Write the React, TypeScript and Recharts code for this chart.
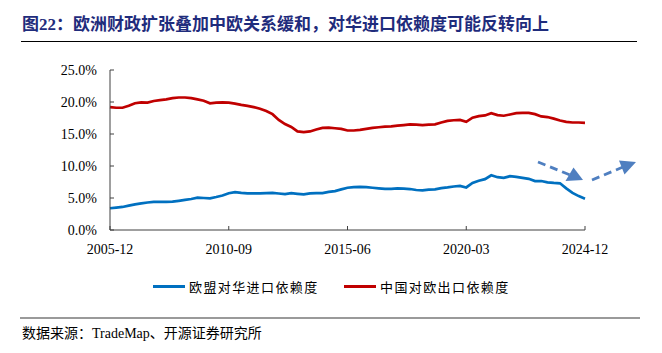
import { LineChart, Line, XAxis, YAxis } from "recharts";

// quarterly samples, 2005-12 .. 2024-12
const months = [
  "2005-12",
  "2006-03", "2006-06", "2006-09", "2006-12",
  "2007-03", "2007-06", "2007-09", "2007-12",
  "2008-03", "2008-06", "2008-09", "2008-12",
  "2009-03", "2009-06", "2009-09", "2009-12",
  "2010-03", "2010-06", "2010-09", "2010-12",
  "2011-03", "2011-06", "2011-09", "2011-12",
  "2012-03", "2012-06", "2012-09", "2012-12",
  "2013-03", "2013-06", "2013-09", "2013-12",
  "2014-03", "2014-06", "2014-09", "2014-12",
  "2015-03", "2015-06", "2015-09", "2015-12",
  "2016-03", "2016-06", "2016-09", "2016-12",
  "2017-03", "2017-06", "2017-09", "2017-12",
  "2018-03", "2018-06", "2018-09", "2018-12",
  "2019-03", "2019-06", "2019-09", "2019-12",
  "2020-03", "2020-06", "2020-09", "2020-12",
  "2021-03", "2021-06", "2021-09", "2021-12",
  "2022-03", "2022-06", "2022-09", "2022-12",
  "2023-03", "2023-06", "2023-09", "2023-12",
  "2024-03", "2024-06", "2024-09", "2024-12",
];

// 欧盟对华进口依赖度 (%)
const euImport = [
  3.4, 3.5, 3.6, 3.8, 4.0, 4.15, 4.3, 4.38, 4.4, 4.38,
  4.42, 4.55, 4.7, 4.85, 5.05, 5.0, 4.95, 5.15, 5.4, 5.75,
  5.92, 5.8, 5.72, 5.72, 5.72, 5.75, 5.8, 5.7, 5.62, 5.75,
  5.65, 5.57, 5.72, 5.77, 5.77, 5.95, 6.08, 6.35, 6.6, 6.7,
  6.75, 6.7, 6.6, 6.5, 6.42, 6.42, 6.5, 6.47, 6.4, 6.25,
  6.2, 6.3, 6.35, 6.55, 6.65, 6.8, 6.9, 6.65, 7.35, 7.7,
  7.95, 8.55, 8.25, 8.15, 8.4, 8.3, 8.15, 8.0, 7.65, 7.65,
  7.45, 7.35, 7.3, 6.5, 5.8, 5.3, 4.9,
];

// 中国对欧出口依赖度 (%)
const cnExport = [
  19.2, 19.1, 19.1, 19.4, 19.8, 19.95, 19.9, 20.15, 20.3, 20.4,
  20.6, 20.7, 20.7, 20.6, 20.4, 20.2, 19.8, 19.9, 19.95, 19.9,
  19.75, 19.55, 19.4, 19.2, 18.95, 18.6, 18.1, 17.2, 16.55, 16.1,
  15.4, 15.3, 15.4, 15.7, 15.95, 16.0, 15.9, 15.8, 15.55, 15.55,
  15.65, 15.8, 15.95, 16.05, 16.15, 16.2, 16.3, 16.4, 16.5, 16.45,
  16.4, 16.45, 16.5, 16.8, 17.05, 17.15, 17.2, 16.9, 17.55, 17.8,
  17.9, 18.25, 17.95, 17.85, 18.05, 18.25, 18.3, 18.3, 18.1, 17.75,
  17.65, 17.4, 17.1, 16.9, 16.8, 16.8, 16.75,
];

const xTicks = ["2005-12", "2010-09", "2015-06", "2020-03", "2024-12"];
const yTicks = [0, 5, 10, 15, 20, 25];

const seriesNames = ["欧盟对华进口依赖度", "中国对欧出口依赖度"];
const BLUE = "#0070C0";
const RED = "#C00000";
const AXIS = "#404040";
const ARROW = "#4F7FC0";
const SERIF = "'Liberation Serif', 'Noto Sans CJK SC', serif";

const data = months.map((m, i) => ({ month: m, eu: euImport[i], cn: cnExport[i] }));

export default function App() {
  return (
    <div style={{ position: "relative", width: 662, height: 353, background: "#fff", fontFamily: SERIF, overflow: "hidden" }}>
      <style>{"body{margin:0}"}</style>

      <div style={{ position: "absolute", left: 22, top: 10, fontSize: 17, fontWeight: "bold", color: "#1F2C7C", whiteSpace: "nowrap" }}>
        图22：欧洲财政扩张叠加中欧关系缓和，对华进口依赖度可能反转向上
      </div>
      <div style={{ position: "absolute", left: 21, top: 41, width: 616, height: 1, background: "#000" }} />

      <div style={{ position: "absolute", left: 0, top: 0 }}>
        <LineChart width={662} height={300} data={data} margin={{ top: 70, right: 77, left: 0, bottom: 40 }}>
          <XAxis dataKey="month" scale="point" ticks={xTicks} interval={0} height={30}
            tickSize={-4} tickMargin={18} stroke={AXIS}
            tick={{ fontSize: 14, fill: "#000", fontFamily: SERIF }} />
          <YAxis domain={[0, 25]} ticks={yTicks} width={110} tickSize={-4} tickMargin={17}
            stroke={AXIS} tickFormatter={(v: number) => v.toFixed(1) + "%"}
            tick={{ fontSize: 14, fill: "#000", fontFamily: SERIF }} />
          <Line dataKey="eu" name={seriesNames[0]} stroke={BLUE} strokeWidth={2.7} dot={false} isAnimationActive={false} />
          <Line dataKey="cn" name={seriesNames[1]} stroke={RED} strokeWidth={2.7} dot={false} isAnimationActive={false} />
        </LineChart>
      </div>

      {/* dashed trend arrows */}
      <svg width={662} height={353} style={{ position: "absolute", left: 0, top: 0, pointerEvents: "none" }}>
        <line x1={538} y1={162} x2={570} y2={175} stroke={ARROW} strokeWidth={2.8} strokeDasharray="8 5" />
        <path d="M583,180 L565.5,181 L573.5,167.5 Z" fill={ARROW} />
        <line x1={592} y1={180} x2={623} y2={167} stroke={ARROW} strokeWidth={2.8} strokeDasharray="8 5" />
        <path d="M636,162 L624.5,174.5 L619,160.5 Z" fill={ARROW} />
      </svg>

      <div style={{ position: "absolute", top: 277, left: 0, width: 662, fontSize: 13, letterSpacing: 1.4, color: "#000" }}>
        {[BLUE, RED].map((c, i) => (
          <div key={i} style={{ position: "absolute", left: i === 0 ? 153 : 344, display: "flex", alignItems: "center", whiteSpace: "nowrap" }}>
            <div style={{ width: 32, height: 3, background: c, marginRight: 4 }} />
            <span>{seriesNames[i]}</span>
          </div>
        ))}
      </div>

      <div style={{ position: "absolute", left: 20, top: 317, width: 620, height: 2, background: "#9a9a9a" }} />
      <div style={{ position: "absolute", left: 22, top: 322, fontSize: 14, color: "#000", whiteSpace: "nowrap" }}>
        数据来源：TradeMap、开源证券研究所
      </div>
    </div>
  );
}
